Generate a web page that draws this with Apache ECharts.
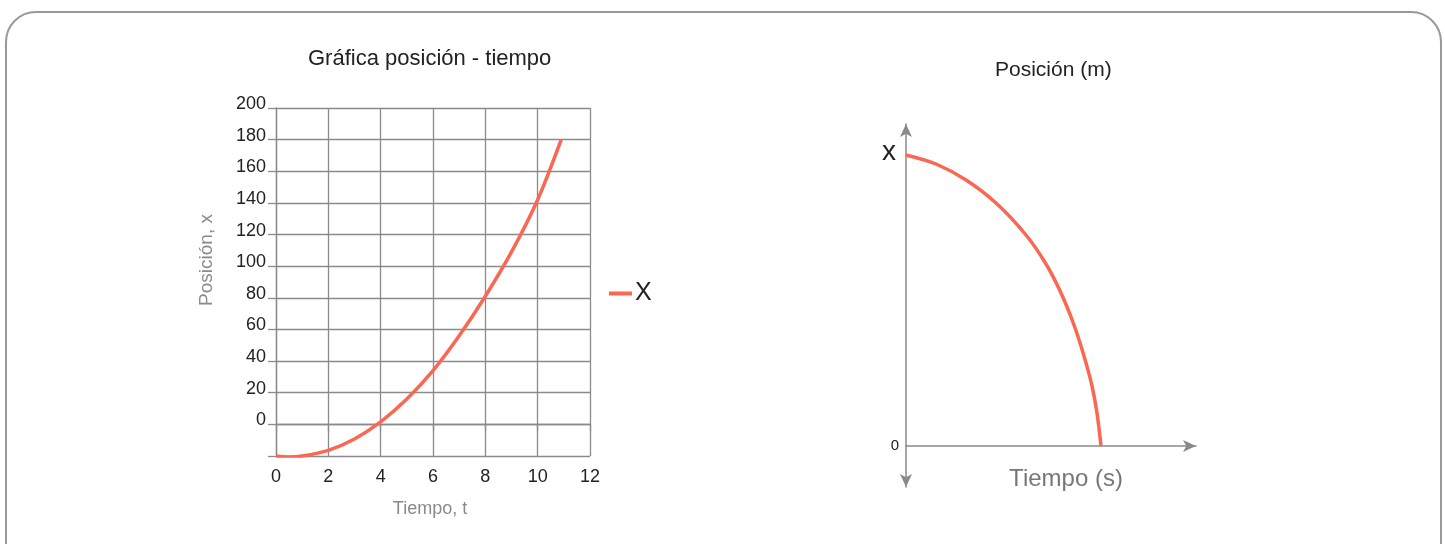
<!DOCTYPE html>
<html>
<head>
<meta charset="utf-8">
<script src="https://cdn.jsdelivr.net/npm/echarts@6/dist/echarts.min.js"></script>
<style>
  html, body { margin: 0; padding: 0; background: #fff; }
  #chartsDiv { width: 1445px; height: 544px; }
</style>
</head>
<body>
<div id="chartsDiv"></div>
<script>
// grafica izquierda: posicion - tiempo
var tiempo = [0, 0.5, 1, 2, 3, 4, 5, 6, 7, 8, 9, 10, 10.9]
var posicion = [-20, -20.6, -20, -16.4, -9.2, 1.6, 16, 34, 56, 81, 109, 142, 180]
// grafica derecha: esquema (unidades arbitrarias)
var tiempoEsquema = [0, 30, 60, 90, 120, 140, 155, 168, 178, 186, 191, 195]
var posicionEsquema = [291, 282, 266, 243, 211, 182, 153, 121, 90, 60, 33, 0]
var etiquetasEsquema = [0, 291]

var fontFam = 'Liberation Sans, Arial, sans-serif'
var gris = '#8a8a8a'
var rojo = '#fa6752'

var pares = function(xs, ys) {
  return xs.map(function(x, i) { return [x, ys[i]] })
}

var realChart = echarts.init(document.getElementById('chartsDiv'), null, { renderer: 'canvas' })

var option = {
  animation: false,
  textStyle: { fontFamily: fontFam },
  title: [
    {
      text: 'Gráfica posición - tiempo',
      left: 303,
      top: 43,
      textStyle: { fontSize: 22, fontWeight: 'normal', color: '#222' }
    },
    {
      text: 'Posición (m)',
      left: 990,
      top: 55,
      textStyle: { fontSize: 21, fontWeight: 'normal', color: '#222' }
    }
  ],
  legend: {
    left: 604,
    top: 276,
    icon: 'rect',
    itemWidth: 23,
    itemHeight: 4,
    itemGap: 4,
    textStyle: { fontSize: 25, color: '#222', padding: [0, 0, 0, -2] },
    data: ['X']
  },
  graphic: [
    {
      type: 'rect',
      shape: { x: 6, y: 12, width: 1435, height: 560, r: 30 },
      style: { fill: 'none', stroke: '#999', lineWidth: 2 },
      silent: true
    }
  ],
  grid: [
    { left: 276, right: 855, top: 108, bottom: 88 },
    { left: 906, right: 249, top: 124, bottom: 57 }
  ],
  xAxis: [
    {
      gridIndex: 0,
      type: 'value',
      min: 0,
      max: 12,
      interval: 2,
      name: 'Tiempo, t',
      nameLocation: 'middle',
      nameGap: 44,
      nameTextStyle: { fontSize: 18, color: gris, padding: [0, 6, 0, 0] },
      axisLine: { lineStyle: { color: gris, width: 1.3 } },
      axisTick: { length: 7, lineStyle: { color: gris, width: 1.3 } },
      axisLabel: { fontSize: 18, color: '#222', margin: 12 },
      splitLine: { lineStyle: { color: gris, width: 1.3 } }
    },
    {
      gridIndex: 1,
      type: 'value',
      min: 0,
      max: 290,
      name: 'Tiempo (s)',
      nameLocation: 'middle',
      nameGap: -20,
      nameMoveOverlap: false,
      nameTextStyle: { fontSize: 24, color: '#777', padding: [0, 0, 0, 30] },
      axisLine: {
        symbol: ['none', 'arrow'],
        symbolSize: [9, 13],
        lineStyle: { color: gris, width: 1.5 }
      },
      axisTick: { show: false },
      axisLabel: { show: false },
      splitLine: { show: false }
    }
  ],
  yAxis: [
    {
      gridIndex: 0,
      type: 'value',
      min: -20,
      max: 200,
      interval: 20,
      name: 'Posición, x',
      nameLocation: 'middle',
      nameGap: 60,
      nameTextStyle: { fontSize: 19, color: gris, padding: [0, 0, 0, 44] },
      axisLine: { lineStyle: { color: gris, width: 1.3 } },
      axisTick: { length: 8, lineStyle: { color: gris, width: 1.3 } },
      axisLabel: {
        fontSize: 18,
        color: '#222',
        margin: 10,
        verticalAlign: 'bottom',
        lineHeight: 8,
        formatter: function(value) {
          return value < 0 ? '' : value
        }
      },
      splitLine: { lineStyle: { color: gris, width: 1.3 } }
    },
    {
      gridIndex: 1,
      type: 'value',
      min: -41,
      max: 322,
      axisLine: {
        symbol: ['arrow', 'arrow'],
        symbolSize: [9, 13],
        lineStyle: { color: gris, width: 1.5 }
      },
      axisTick: { show: false },
      axisLabel: {
        customValues: etiquetasEsquema,
        margin: 7,
        formatter: function(value) {
          return value === 0 ? '{a|0}' : '{b|x}'
        },
        rich: {
          a: { fontSize: 15, color: '#222' },
          b: { fontSize: 28, color: '#222', padding: [0, 3, 6, 0] }
        }
      },
      splitLine: { show: false }
    }
  ],
  series: [
    {
      name: 'X',
      type: 'line',
      xAxisIndex: 0,
      yAxisIndex: 0,
      smooth: 0.3,
      symbol: 'none',
      color: rojo,
      lineStyle: { width: 3.5 },
      data: pares(tiempo, posicion)
    },
    {
      name: 'esquema',
      type: 'line',
      xAxisIndex: 1,
      yAxisIndex: 1,
      smooth: 0.3,
      symbol: 'none',
      color: rojo,
      lineStyle: { width: 3.5 },
      data: pares(tiempoEsquema, posicionEsquema)
    }
  ]
}

realChart.setOption(option)
</script>
</body>
</html>
